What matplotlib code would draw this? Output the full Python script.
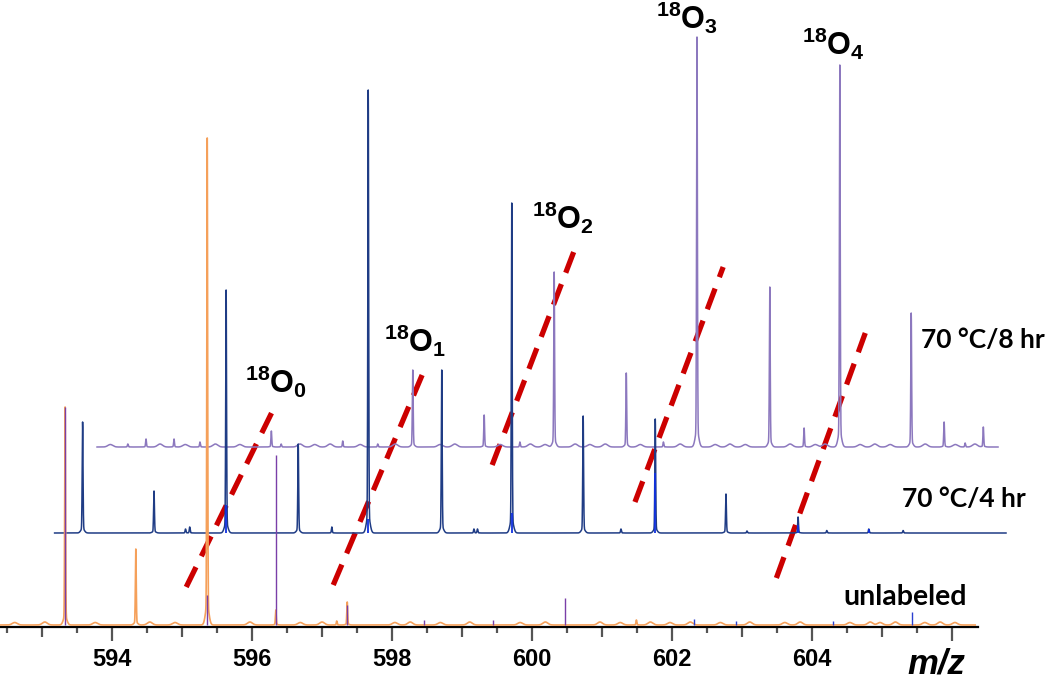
import numpy as np
import matplotlib
matplotlib.use("Agg")
import matplotlib.pyplot as plt

# ---------------- data ----------------
mz_lo, mz_hi = 592.4, 606.37
y_lo, y_hi = -2, 625

major_ticks = [594, 596, 598, 600, 602, 604, 606]
major_labels = ["594", "596", "598", "600", "602", "604", ""]
mid_ticks = [593, 595, 597, 599, 601, 603, 605]
minor_ticks = [592.5, 593.5, 594.5, 595.5, 596.5, 597.5, 598.5, 599.5,
               600.5, 601.5, 602.5, 603.5, 604.5, 605.5]

# unlabeled (orange profile + centroid sticks)
unl_range = (592.40, 606.33)
unl_offset = (0.0, 0.0)
unl_peak_mz = [593.33, 594.34, 595.36, 596.34, 597.21, 597.36, 601.49]
unl_peak_h = [218, 76, 487, 15, 4, 23, 5]
unl_bump_mz = [592.61, 593.04, 593.76, 594.54, 594.90, 595.97, 596.69, 597.00,
               598.04, 598.26, 598.69, 599.11, 599.83, 600.19, 600.97, 601.26,
               601.69, 601.97, 602.26, 602.69, 603.11, 603.61, 603.83, 604.54,
               604.83, 604.97, 605.19, 605.61, 605.83, 606.04]
unl_bump_h = [2.5, 3, 2.5, 3, 2.5, 3, 2.5, 3, 2.5, 3, 2.5, 3, 2.5, 3, 3,
              2.5, 3, 2.5, 3, 2.5, 3, 2.5, 3, 2.5, 3, 2.5, 3, 2.5, 3, 2.5]
unl_stick_mz = [593.33, 595.36, 596.34, 597.36, 598.46, 599.44, 600.47]
unl_stick_h = [218, 30, 170, 20, 5, 5, 27]
unl_blue_mz = [602.31, 602.91, 604.30, 605.43]
unl_blue_h = [6, 4, 4, 13]

# 70 C / 4 hr
h4_range = (592.91, 606.50)
h4_offset = (0.27, 92)
h4_peak_mz = [593.31, 594.33, 594.78, 594.84, 595.36, 596.39, 596.87, 597.39,
              598.44, 598.90, 598.95, 599.44, 600.46, 601.00, 601.49, 602.50,
              602.80, 603.53, 603.94, 604.54, 605.03]
h4_peak_h = [111, 42, 4, 6, 243, 89, 6, 443, 163, 4, 4, 330, 117, 4, 114, 39,
             2, 16, 2.5, 4, 2.5]
h4_stick_mz = [595.36, 597.39, 599.44, 601.49, 603.53, 604.54]
h4_stick_h = [28, 14, 20, 60, 8, 4]

# 70 C / 8 hr
h8_range = (592.90, 605.77)
h8_offset = (0.886, 178)
h8_peak_mz = [593.34, 593.60, 594.00, 594.37, 595.39, 595.53, 596.41, 596.91,
              597.41, 598.43, 598.94, 599.43, 600.46, 600.99, 601.47, 602.51,
              603.00, 603.51, 604.53, 605.00, 605.30, 605.56]
h8_peak_h = [3, 8, 8, 5, 16, 3, 6, 3, 77, 32, 5, 175, 74, 5, 410, 160, 19,
             382, 134, 25, 4, 20]
h8_bump_mz = [593.09, 593.80, 594.16, 594.59, 594.94, 595.80, 596.01, 596.23,
              596.66, 597.16, 597.80, 598.01, 598.66, 599.09, 599.30, 599.73,
              599.94, 600.16, 600.66, 601.23, 601.73, 601.94, 602.16, 602.80,
              603.16, 603.30, 603.80, 604.01, 604.23, 604.73, 605.16, 605.44]
h8_bump_h = [2.5, 3, 2.5, 3, 2.5, 3, 2.5, 3, 2.5, 3, 2.5, 3, 2.5, 3, 2.5, 3,
             2.5, 3, 2.5, 3, 2.5, 3, 2.5, 3, 2.5, 3, 2.5, 3, 2.5, 3, 2.5, 3]

# dashed guide lines (start/end in axis units)
guide_x0 = [595.06, 597.16, 599.43, 601.47, 603.49]
guide_y0 = [38, 40, 160, 123, 47]
guide_x1 = [596.30, 598.43, 600.60, 602.73, 604.76]
guide_y1 = [215, 250, 374, 358, 292]

iso_text = [r"$^{18}$O$_{0}$", r"$^{18}$O$_{1}$", r"$^{18}$O$_{2}$",
            r"$^{18}$O$_{3}$", r"$^{18}$O$_{4}$"]
iso_x = [596.34, 598.33, 600.44, 602.21, 604.31]
iso_y = [243, 284, 407, 607, 581]

sample_text = ["70 \u00b0C/8 hr", "70 \u00b0C/4 hr", "unlabeled"]
sample_x = [605.56, 605.29, 604.44]
sample_y = [277, 118, 20]
sample_size = [19, 19, 20.5]

# ---------------- drawing ----------------
plt.rcParams["mathtext.fontset"] = "custom"
plt.rcParams["mathtext.rm"] = "Liberation Sans:bold"
plt.rcParams["mathtext.bf"] = "Liberation Sans:bold"
plt.rcParams["mathtext.default"] = "rm"


def profile(rng, peak_mz, peak_h, bump_mz=(), bump_h=()):
    x = np.arange(rng[0], rng[1], 0.002)
    y = np.zeros_like(x)
    for m, h in zip(peak_mz, peak_h):
        d = x - m
        y += h * (0.96 * np.exp(-d**2 / (2 * 0.006**2))
                  + 0.04 * np.exp(-d**2 / (2 * 0.025**2)))
    for m, h in zip(bump_mz, bump_h):
        y += h * np.exp(-(x - m)**2 / (2 * 0.035**2))
    return x, y


fig = plt.figure(figsize=(10.5, 6.82), dpi=100)
ax = fig.add_axes([0, 55 / 682, 978 / 1050, 627 / 682])
ax.set_xlim(mz_lo, mz_hi)
ax.set_ylim(y_lo, y_hi)

c8 = "#8C78BE"
c4 = "#1F3C85"
cunl = "#F5A05A"

# dashed guides (behind spectra)
for x0, y0, x1, y1 in zip(guide_x0, guide_y0, guide_x1, guide_y1):
    ax.plot([x0, x1], [y0, y1], color="#CC0000", lw=3.8,
            linestyle=(0, (4.2, 2.3)), solid_capstyle="butt",
            dash_capstyle="butt", zorder=1)

# 8 hr
x, y = profile(h8_range, h8_peak_mz, h8_peak_h, h8_bump_mz, h8_bump_h)
ax.plot(x + h8_offset[0], y + h8_offset[1], color=c8, lw=1.1, zorder=2,
        clip_on=False)

# 4 hr
x, y = profile(h4_range, h4_peak_mz, h4_peak_h)
ax.plot(x + h4_offset[0], y + h4_offset[1], color=c4, lw=1.1, zorder=3,
        clip_on=False)
ax.vlines(np.array(h4_stick_mz) + h4_offset[0], h4_offset[1],
          np.array(h4_stick_h) + h4_offset[1], color="#1030E0", lw=1.3, zorder=3.5)

# unlabeled
x, y = profile(unl_range, unl_peak_mz, unl_peak_h, unl_bump_mz, unl_bump_h)
ax.plot(x + unl_offset[0], y + unl_offset[1], color=cunl, lw=1.2, zorder=4,
        clip_on=False)
ax.vlines(unl_stick_mz, 0, unl_stick_h, color="#7A3FA8", lw=1.0, zorder=4.5)
ax.vlines(unl_blue_mz, 0, unl_blue_h, color="#2A3FD0", lw=1.0, zorder=4.5)

# axes styling
for s in ["top", "left", "right"]:
    ax.spines[s].set_visible(False)
ax.spines["bottom"].set_linewidth(1.6)
ax.spines["bottom"].set_color("black")
ax.set_yticks([])
ax.set_xticks(major_ticks)
ax.set_xticklabels(major_labels)
ax.set_xticks(minor_ticks, minor=True)
ax.tick_params(axis="x", which="major", direction="out", length=10, width=1.6,
               color="#555555", pad=5, labelsize=17)
ax.tick_params(axis="x", which="minor", direction="out", length=4.5, width=1.6,
               color="#555555")
for lab in ax.get_xticklabels():
    lab.set_fontfamily("Liberation Sans")
    lab.set_fontweight("bold")

sec = ax.secondary_xaxis("bottom")
sec.set_xticks(mid_ticks)
sec.set_xticklabels([""] * len(mid_ticks))
sec.tick_params(axis="x", direction="out", length=7.5, width=1.6, color="#555555")
sec.spines["bottom"].set_visible(False)

# labels
for t, xx, yy in zip(iso_text, iso_x, iso_y):
    ax.text(xx, yy, t, ha="center", va="center", fontsize=22,
            fontfamily="Liberation Sans", fontweight="bold", zorder=6)
for t, xx, yy, fs in zip(sample_text, sample_x, sample_y, sample_size):
    ax.text(xx, yy, t, ha="left", va="baseline", fontsize=fs,
            fontfamily="Lato", fontweight="bold", clip_on=False, zorder=6)
ax.text(605.77, -48, "m/z", ha="center", va="baseline", fontsize=25,
        fontfamily="Liberation Sans", fontweight="bold", fontstyle="italic",
        clip_on=False)

fig.savefig("out.png", dpi=100)
